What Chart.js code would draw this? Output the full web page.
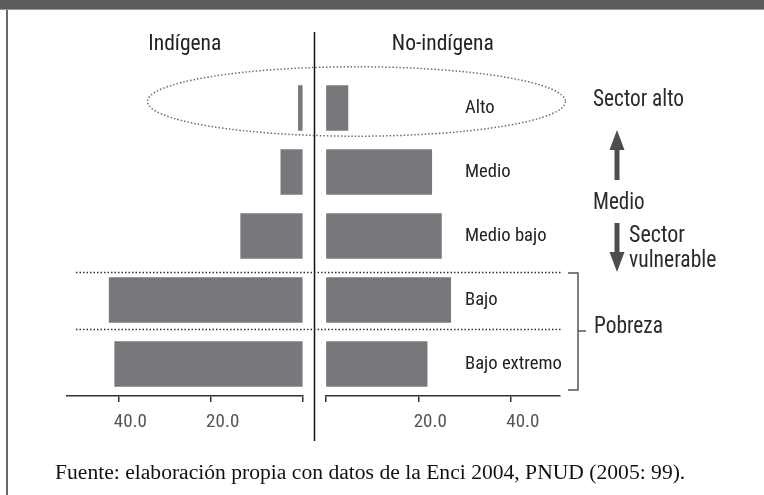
<!DOCTYPE html>
<html lang="es"><head><meta charset="utf-8">
<script src="https://cdn.jsdelivr.net/npm/chart.js@4.4.1/dist/chart.umd.min.js"></script>
<style>
html,body{margin:0;padding:0;background:#fff;}
#wrap{position:relative;width:764px;height:495px;overflow:hidden;background:#fff;}
#wrap canvas{position:absolute;left:0;top:0;}
#band{position:absolute;left:0;top:0;width:764px;height:9px;background:#5c5c5c;border-bottom:1px solid #9a9a9a;}
#lborder{position:absolute;left:6px;top:10px;width:2px;height:485px;background:#6a6a6a;}
.t{position:absolute;white-space:nowrap;line-height:1;font-family:'Roboto Condensed','Liberation Sans Narrow','DejaVu Sans Condensed','Arial Narrow',sans-serif;font-size:23px;color:#2a2a2a;transform-origin:0 0;}
#foot{position:absolute;left:55px;top:462px;white-space:nowrap;line-height:1;font-family:'Liberation Serif','DejaVu Serif',serif;font-size:21.6px;color:#111;}
</style></head>
<body>
<div id="wrap">
  <div id="band"></div><div id="lborder"></div>
  <canvas id="cL" width="764" height="495" style="width:764px;height:495px"></canvas>
  <canvas id="cR" width="764" height="495" style="width:764px;height:495px"></canvas>
  <div class="t" data-w="91" style="left:593px;top:87px">Sector alto</div>
  <div class="t" data-w="51.7" style="left:593px;top:190px">Medio</div>
  <div class="t" data-w="56" style="left:629px;top:223px">Sector</div>
  <div class="t" data-w="87.4" style="left:629px;top:248px">vulnerable</div>
  <div class="t" data-w="69" style="left:594px;top:314px">Pobreza</div>
  <div id="foot">Fuente: elaboración propia con datos de la Enci 2004, PNUD (2005: 99).</div>
</div>
<script>
const categories = ['Alto', 'Medio', 'Medio bajo', 'Bajo', 'Bajo extremo'];
const indigena = [1.0, 4.8, 13.5, 42.0, 40.8];
const noIndigena = [4.8, 22.9, 25.0, 27.0, 21.9];
const seriesTitles = ['Indígena', 'No-indígena'];
const tickStep = 20;
const axisMaxIndigena = 51.2;
const axisMaxNoIndigena = 50.6;

const NARROW = "'Roboto Condensed','Liberation Sans Narrow','DejaVu Sans Condensed','Arial Narrow',sans-serif";
const BAR = '#77787c';

// pick font sizes so texts take the reference's widths (capped at a natural size)
const mctx = document.createElement('canvas').getContext('2d');
function measure(text, size, fam) { mctx.font = size + 'px ' + (fam || NARROW); return mctx.measureText(text).width; }
function fitSize(text, targetW, maxSize) { return Math.min(maxSize, maxSize * targetW / measure(text, maxSize)); }
const titleSize = fitSize('Indígena', 73, 23);
const tickSize = fitSize('40.0', 34, 19);
const catSize = fitSize('Bajo extremo', 97, 20);

// condense the HTML annotations to their reference widths
document.querySelectorAll('.t').forEach(el => {
  const w = measure(el.textContent, 23);
  const k = Math.min(1, parseFloat(el.dataset.w) / w);
  el.style.transform = 'scaleX(' + k.toFixed(3) + ')';
});

// title geometry: baseline ~51.5, plot area top at 76
const titleMid = 51.5 - 0.30 * titleSize;
const titleTop = titleMid - 0.6 * titleSize;
const titleBottomPad = 76 - titleTop - 1.2 * titleSize;

function xScale(max, reverse) {
  return {
    type: 'linear', min: 0, max: max, reverse: reverse,
    ticks: {
      stepSize: tickStep, includeBounds: false, color: '#555',
      font: {family: NARROW, size: tickSize}, padding: 9, labelOffset: 12,
      callback: v => v === 0 ? '' : Number(v).toFixed(1)
    },
    grid: {drawOnChartArea: false, drawTicks: true, tickLength: 6, color: '#333', lineWidth: 1.5},
    border: {display: true, color: '#333', width: 1.5},
    afterFit(s) { s.height = 40; }
  };
}
function titleOpts(text) {
  return {display: true, text: text, color: '#222',
    font: {family: NARROW, size: titleSize, weight: 'normal', lineHeight: 1.2},
    padding: {top: 0, bottom: titleBottomPad}};
}

new Chart(document.getElementById('cL'), {
  type: 'bar',
  data: {labels: categories, datasets: [{label: seriesTitles[0], data: indigena, backgroundColor: BAR, borderWidth: 0, barThickness: 45}]},
  options: {
    indexAxis: 'y', responsive: false, animation: false, devicePixelRatio: 1, events: [],
    layout: {padding: {left: 66.7, right: 461, top: titleTop, bottom: 59}},
    plugins: {legend: {display: false}, tooltip: {enabled: false}, title: titleOpts(seriesTitles[0])},
    scales: {x: xScale(axisMaxIndigena, true), y: {display: false}}
  }
});

const deco = {
  id: 'deco',
  afterDraw(chart) {
    const ctx = chart.ctx, y = chart.scales.y;
    const yAlto = y.getPixelForValue(0);
    const yBajo = y.getPixelForValue(3);
    const half = 22.5;
    ctx.save();
    // central divider
    ctx.strokeStyle = '#111'; ctx.lineWidth = 1.5;
    ctx.beginPath(); ctx.moveTo(314.5, 32); ctx.lineTo(314.5, 441); ctx.stroke();
    // dotted ellipse around "Alto"
    ctx.setLineDash([1.5, 2]); ctx.strokeStyle = '#6e6e6e';
    ctx.beginPath(); ctx.ellipse(356.5, yAlto - 6.5, 209, 34.7, 0, 0, Math.PI * 2); ctx.stroke();
    // dotted separators
    ctx.strokeStyle = '#333';
    [yBajo - half - 5, yBajo + half + 7].forEach(yy => {
      ctx.beginPath(); ctx.moveTo(76, yy); ctx.lineTo(562, yy); ctx.stroke();
    });
    ctx.setLineDash([]);
    // arrows
    ctx.fillStyle = '#4d4d4d';
    const ax = 617;
    ctx.fillRect(ax - 2.5, 149, 5, 31);
    ctx.beginPath(); ctx.moveTo(ax, 130); ctx.lineTo(ax + 7.5, 150); ctx.lineTo(ax - 7.5, 150); ctx.closePath(); ctx.fill();
    ctx.fillRect(ax - 2.5, 223, 5, 30);
    ctx.beginPath(); ctx.moveTo(ax, 272); ctx.lineTo(ax + 7.5, 252); ctx.lineTo(ax - 7.5, 252); ctx.closePath(); ctx.fill();
    // bracket
    ctx.strokeStyle = '#555'; ctx.lineWidth = 1.5;
    ctx.beginPath(); ctx.moveTo(568, 273); ctx.lineTo(578, 273); ctx.lineTo(578, 390); ctx.lineTo(568, 390); ctx.stroke();
    ctx.beginPath(); ctx.moveTo(578, 331); ctx.lineTo(586, 331); ctx.stroke();
    ctx.restore();
  }
};

new Chart(document.getElementById('cR'), {
  type: 'bar',
  data: {labels: categories, datasets: [{label: seriesTitles[1], data: noIndigena, backgroundColor: BAR, borderWidth: 0, barThickness: 45}]},
  options: {
    indexAxis: 'y', responsive: false, animation: false, devicePixelRatio: 1, events: [],
    layout: {padding: {left: 325.7, right: 204, top: titleTop, bottom: 59}},
    plugins: {legend: {display: false}, tooltip: {enabled: false}, title: titleOpts(seriesTitles[1])},
    scales: {
      x: xScale(axisMaxNoIndigena, false),
      y: {
        position: 'left', grid: {display: false}, border: {display: false},
        ticks: {mirror: true, padding: 139.3, color: '#222', font: {family: NARROW, size: catSize}},
        afterFit(s) { s.width = 0; s.paddingTop = 0; s.paddingBottom = 0; }
      }
    }
  },
  plugins: [deco]
});
</script>
</body></html>
